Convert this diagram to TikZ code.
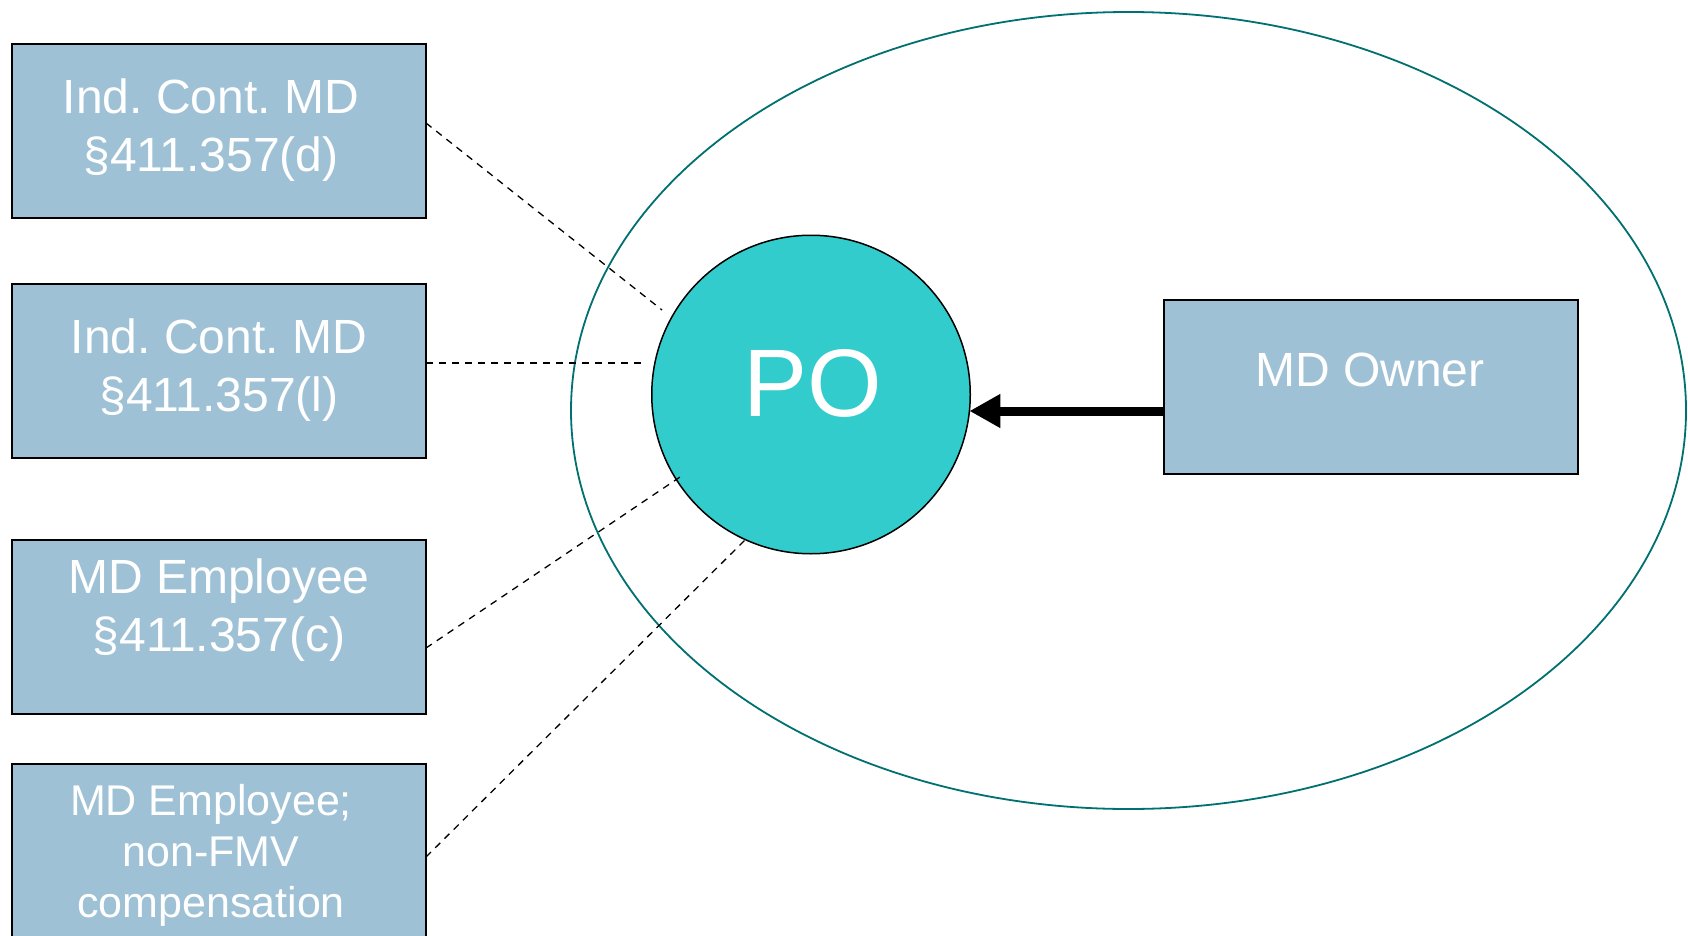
\documentclass[tikz,border=0pt]{standalone}
\usepackage{fontspec}
\setmainfont{Liberation Sans}
\usetikzlibrary{arrows.meta}
\definecolor{boxfill}{RGB}{159,193,214}
\definecolor{pofill}{RGB}{51,204,204}
\definecolor{ellteal}{RGB}{0,112,112}
\begin{document}
\frenchspacing
\begin{tikzpicture}[x=1pt,y=1pt,
  mdbox/.style={draw=black, line width=2.2pt, fill=boxfill, minimum width=414pt,
    minimum height=174pt, inner sep=0pt, outer sep=0pt, anchor=north west},
  boxtext/.style={text=white, align=center, inner sep=0pt,
    font=\fontsize{48}{58.4}\selectfont},
  smalltext/.style={boxtext, font=\fontsize{43}{51}\selectfont},
  link/.style={draw=black, line width=1.3pt, dash pattern=on 7pt off 6pt},
  poarrow/.style={draw=black, line width=9pt, -{Triangle[length=31pt,width=32pt]}}
]
\clip (0,0) rectangle (1688,-936);
\fill[white] (0,0) rectangle (1688,-936);

% enclosing ellipse
\draw[ellteal, line width=1.8pt] (1128.5,-410.5) ellipse [x radius=557.5, y radius=398.5];

% boxes
\node[mdbox] (b1) at (12,-44) {};
\node[mdbox] (b2) at (12,-284) {};
\node[mdbox] (b3) at (12,-540) {};
\node[mdbox] (b4) at (12,-764) {};
\node[mdbox] (owner) at (1164,-300) {};

\node[boxtext] (t1) at (211,-130) {Ind. Cont. MD\\§411.357(d)};
\node[boxtext] (t2) at (219,-370) {Ind. Cont. MD\\§411.357(l)};
\node[boxtext] (t3) at (219,-609.8) {MD Employee\\§411.357(c)};
\node[smalltext] (t4) at (211,-855) {MD Employee;\\non-FMV\\compensation};
\node[boxtext] (t5) at (1370,-369.5) {MD Owner};

% PO circle
\node[circle, draw=black, line width=1.5pt, fill=pofill, minimum size=318.5pt,
      inner sep=0pt, outer sep=0pt] (po) at (811,-394.5) {};
\node[text=white, inner sep=0pt, font=\fontsize{96}{110}\selectfont] (potext) at (812.5,-383) {PO};

% arrow from owner to PO
\coordinate (astart) at ([yshift=-24pt]owner.west);
\draw[poarrow] (astart) -- ([xshift=-0.8pt]astart -| po.east);

% dashed links
\coordinate (e1) at (662,-310);
\coordinate (e2) at (645,-363);
\coordinate (e3) at (683,-475);
\coordinate (e4) at (747,-538);
\draw[link] (b1.east |- 0,-123) -- (e1);
\draw[link] (b2.east |- 0,-363) -- (e2);
\draw[link] (b3.east |- 0,-648) -- (e3);
\draw[link] (b4.east |- 0,-857) -- (e4);
\end{tikzpicture}
\end{document}
